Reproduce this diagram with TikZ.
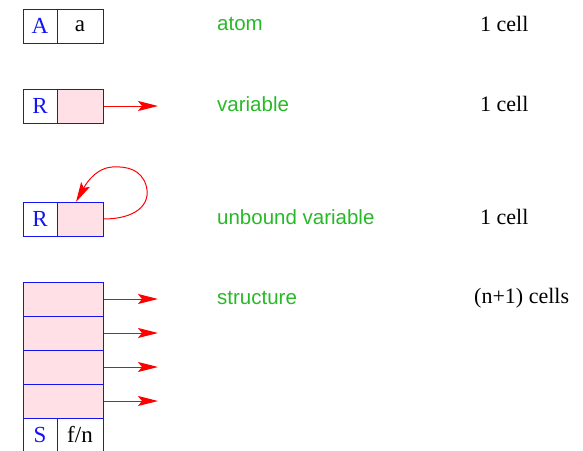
\documentclass[tikz,border=0pt]{standalone}
\usepackage{fontspec}
\setmainfont{Liberation Serif}
\newfontfamily\labfont{Liberation Sans}
\usetikzlibrary{arrows.meta}
\definecolor{lblgreen}{RGB}{40,185,40}
\definecolor{cellpink}{RGB}{255,224,230}
\definecolor{cellblue}{RGB}{20,20,240}
\tikzset{
  cellbox/.style={draw=cellblue, line width=1pt, inner sep=0pt, minimum height=34pt, font=\fontsize{23}{25}\selectfont},
  tagcell/.style={cellbox, minimum width=34pt, text=cellblue},
  valcell/.style={cellbox, minimum width=46pt},
  ptrcell/.style={valcell, fill=cellpink},
  widecell/.style={cellbox, minimum width=80pt, fill=cellpink},
  ptr/.style={draw=red, line width=1pt, -{Stealth[length=20pt,width=10pt,inset=4pt]}},
  kind/.style={anchor=west, text=lblgreen, font=\labfont\fontsize{20.5}{23}\selectfont, inner sep=0pt},
  size/.style={anchor=west, font=\fontsize{22}{24}\selectfont, inner sep=0pt}
}
\begin{document}
\begin{tikzpicture}[x=1pt,y=-1pt]
\useasboundingbox (0,0) rectangle (583,450);
% atom
\node[tagcell] (a1) at (40,26) {A};
\node[valcell] (a2) at (80,26) {a};
% variable
\node[tagcell] (r1) at (40,106) {R};
\node[ptrcell] (r2) at (80,106) {};
\coordinate (rt) at (158,106);
\draw[ptr] (r2.east) -- (rt);
% unbound variable
\node[tagcell] (u1) at (40,219) {R};
\node[ptrcell] (u2) at (80,219) {};
\coordinate (ut) at (76,202);
\draw[ptr] (u2.east) .. controls (135,219) and (152,205) .. (146,185)
  .. controls (141,170) and (128,166) .. (112,167)
  .. controls (98,168) and (88,180) .. (ut);
% structure
\node[widecell] (s1) at (63,299) {};
\node[widecell] (s2) at (63,333) {};
\node[widecell] (s3) at (63,367) {};
\node[widecell] (s4) at (63,401) {};
\node[tagcell] (s5) at (40,435) {S};
\node[valcell] (s6) at (80,435) {f/n};
\coordinate (t1) at (158,299);
\coordinate (t2) at (158,333);
\coordinate (t3) at (158,367);
\coordinate (t4) at (158,401);
\draw[ptr] (s1.east) -- (t1);
\draw[ptr] (s2.east) -- (t2);
\draw[ptr] (s3.east) -- (t3);
\draw[ptr] (s4.east) -- (t4);
% labels
\node[kind] (k1) at (217,24) {atom};
\node[kind] (k2) at (217,104) {variable};
\node[kind] (k3) at (217,217) {unbound variable};
\node[kind] (k4) at (217,298) {structure};
\node[size] (c1) at (480,24) {1 cell};
\node[size] (c2) at (480,104) {1 cell};
\node[size] (c3) at (480,217) {1 cell};
\node[size] (c4) at (474,298) {(n+1) cells};
\end{tikzpicture}
\end{document}
